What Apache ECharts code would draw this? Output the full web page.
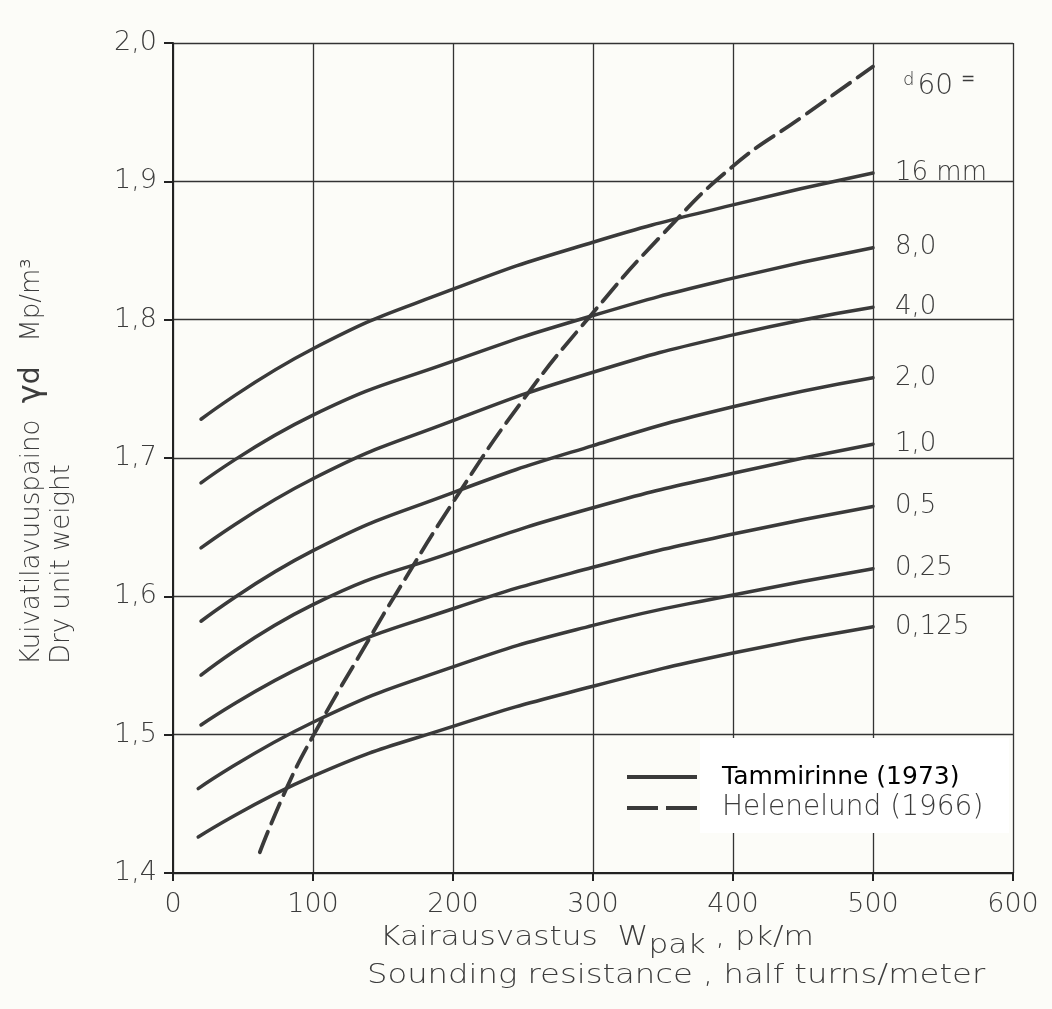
<!DOCTYPE html>
<html>
<head>
<meta charset="utf-8">
<script src="https://cdn.jsdelivr.net/npm/echarts@6/dist/echarts.min.js"></script>
<style>
  html, body { margin: 0; padding: 0; background: #fcfcf8; }
  #chart { width: 1052px; height: 1009px; }
</style>
</head>
<body>
<div id="chart"></div>
<script>
// Sounding resistance (half turns / m) where each d60 curve is read
const resistance = [20, 100, 200, 300, 400, 500];
const resistanceLow = [18, 100, 200, 300, 400, 500];

// Dry unit weight (Mp/m3) for each d60 grain size, Tammirinne (1973)
const gamma16 = [1.728, 1.779, 1.822, 1.856, 1.883, 1.906];
const gamma8 = [1.682, 1.731, 1.770, 1.803, 1.830, 1.852];
const gamma4 = [1.635, 1.685, 1.727, 1.762, 1.789, 1.809];
const gamma2 = [1.582, 1.633, 1.675, 1.709, 1.737, 1.758];
const gamma1 = [1.543, 1.594, 1.632, 1.664, 1.689, 1.710];
const gamma05 = [1.507, 1.553, 1.591, 1.621, 1.645, 1.665];
const gamma025 = [1.461, 1.509, 1.549, 1.579, 1.601, 1.620];
const gamma0125 = [1.426, 1.470, 1.506, 1.535, 1.559, 1.578];

// Curve labels (d60)
const d60Labels = ['16 mm', '8,0', '4,0', '2,0', '1,0', '0,5', '0,25', '0,125'];

// Helenelund (1966)
const helenelundX = [62, 81, 100, 140, 160, 200, 250, 300, 350, 400, 450, 500];
const helenelundY = [1.415, 1.461, 1.499, 1.569, 1.603, 1.668, 1.742, 1.805, 1.862, 1.911, 1.947, 1.983];

const SOLID_NAME = 'Tammirinne (1973)';
const DASH_NAME = 'Helenelund (1966)';

const INK = '#3a3a3a';
const TEXT = '#3c3c3c';
const FONT = '"DejaVu Sans", sans-serif';

const zip = (xs, ys) => xs.map((x, i) => [x, ys[i]]);

const curves = [
  [resistance, gamma16],
  [resistance, gamma8],
  [resistance, gamma4],
  [resistance, gamma2],
  [resistance, gamma1],
  [resistance, gamma05],
  [resistanceLow, gamma025],
  [resistanceLow, gamma0125]
];

const solidSeries = curves.map(([xs, ys], i) => ({
  name: SOLID_NAME,
  type: 'line',
  data: zip(xs, ys),
  smooth: 0.5,
  symbol: 'none',
  lineStyle: { color: INK, width: 3.5, cap: 'round' },
  itemStyle: { color: INK },
  z: 3,
  endLabel: {
    show: true,
    formatter: d60Labels[i],
    distance: 22,
    color: TEXT,
    fontSize: 26,
    fontFamily: FONT,
    fontWeight: 200
  }
}));

const dashedSeries = {
  name: DASH_NAME,
  type: 'line',
  data: zip(helenelundX, helenelundY),
  smooth: 0.5,
  symbol: 'none',
  lineStyle: { color: INK, width: 3.8, type: [22, 9], cap: 'round' },
  itemStyle: { color: INK },
  z: 3
};

// Legend entries: each one is its own small legend so the rows sit exactly
const legendRow = (name, top, icon, textStyle) => ({
  orient: 'vertical',
  left: 627,
  top: top,
  padding: 0,
  itemWidth: 70,
  itemHeight: 4,
  selectedMode: false,
  z: 10,
  data: [{ name: name, icon: icon, itemStyle: { color: INK } }],
  textStyle: Object.assign({ lineHeight: 30, padding: [0, 0, 0, 20] }, textStyle)
});

const chart = echarts.init(document.getElementById('chart'), null, { renderer: 'canvas' });

chart.setOption({
  backgroundColor: '#fcfcf8',
  animation: false,
  grid: { left: 173, right: 39, top: 43, bottom: 136, containLabel: false },
  xAxis: {
    type: 'value',
    min: 0,
    max: 600,
    interval: 100,
    axisLine: { show: true, onZero: false, lineStyle: { color: '#222', width: 2 } },
    axisTick: { show: true, length: 8, lineStyle: { color: '#222', width: 2 } },
    axisLabel: { margin: 18, color: TEXT, fontSize: 27, fontFamily: FONT, fontWeight: 200 },
    splitLine: { show: true, lineStyle: { color: '#333', width: 1.3 } }
  },
  yAxis: {
    type: 'value',
    min: 1.4,
    max: 2.0,
    interval: 0.1,
    axisLine: { show: true, onZero: false, lineStyle: { color: '#222', width: 2 } },
    axisTick: { show: true, length: 9, lineStyle: { color: '#222', width: 2 } },
    axisLabel: {
      margin: 16,
      color: TEXT,
      fontSize: 27,
      fontFamily: FONT,
      fontWeight: 200,
      formatter: v => v.toFixed(1).replace('.', ',')
    },
    splitLine: { show: true, lineStyle: { color: '#333', width: 1.3 } }
  },
  legend: [
    legendRow(SOLID_NAME, 759, 'path://M0,0H70V4H0Z',
      { color: '#000', fontSize: 25, fontFamily: '"DejaVu Sans", sans-serif', padding: [0, 0, 6, 20] }),
    legendRow(DASH_NAME, 793, 'path://M0,0H31V4H0ZM39,0H70V4H39Z',
      { color: TEXT, fontSize: 28, fontFamily: FONT, fontWeight: 200 })
  ],
  graphic: [
    // white panel behind the legend texts
    {
      type: 'rect',
      z: 1,
      shape: { x: 700, y: 738, width: 309, height: 95 },
      style: { fill: '#ffffff' }
    },
    // d60 = heading above the curve labels
    {
      type: 'text',
      z: 5,
      x: 903,
      y: 86,
      style: {
        text: '{d|d}{n|60}{e|=}',
        textVerticalAlign: 'middle',
        rich: {
          d: { fontSize: 18, fontFamily: FONT, fontWeight: 200, fill: TEXT, verticalAlign: 'top', lineHeight: 30 },
          n: { fontSize: 28, fontFamily: FONT, fontWeight: 200, fill: TEXT, verticalAlign: 'bottom', lineHeight: 30, padding: [0, 0, 0, 3] },
          e: { fontSize: 17, fontFamily: FONT, fill: TEXT, verticalAlign: 'top', lineHeight: 30, padding: [0, 0, 0, 8] }
        }
      }
    },
    // y axis title, two lines reading upwards
    {
      type: 'text',
      z: 5,
      x: 32,
      y: 665,
      rotation: Math.PI / 2,
      style: {
        text: 'Kuivatilavuuspaino  {g|γ}{d|d}   Mp/m³',
        textAlign: 'left',
        textVerticalAlign: 'middle',
        fontSize: 26,
        fontFamily: FONT,
        fontWeight: 200,
        fill: TEXT,
        rich: {
          g: { fontSize: 32, fontFamily: FONT, fill: TEXT },
          d: { fontSize: 28, fontFamily: FONT, fill: TEXT }
        }
      }
    },
    {
      type: 'text',
      z: 5,
      x: 62,
      y: 664,
      rotation: Math.PI / 2,
      style: {
        text: 'Dry unit weight',
        textAlign: 'left',
        textVerticalAlign: 'middle',
        fontSize: 26,
        fontFamily: FONT,
        fontWeight: 200,
        fill: TEXT
      }
    },
    // x axis title, two lines (drafting lettering is wide, so stretch horizontally)
    {
      type: 'text',
      z: 5,
      x: 380,
      y: 938,
      scaleX: 1.2,
      style: {
        text: 'Kairausvastus  W{s|pak} , pk/m',
        textAlign: 'left',
        textVerticalAlign: 'middle',
        fontSize: 26,
        fontFamily: FONT,
        fontWeight: 200,
        fill: TEXT,
        rich: {
          s: { fontSize: 26, fontFamily: FONT, fontWeight: 200, fill: TEXT, padding: [16, 0, 0, 0] }
        }
      }
    },
    {
      type: 'text',
      z: 5,
      x: 367,
      y: 976,
      scaleX: 1.24,
      style: {
        text: 'Sounding resistance , half turns/meter',
        textAlign: 'left',
        textVerticalAlign: 'middle',
        fontSize: 26,
        fontFamily: FONT,
        fontWeight: 200,
        fill: TEXT
      }
    }
  ],
  series: [...solidSeries, dashedSeries]
});
</script>
</body>
</html>
